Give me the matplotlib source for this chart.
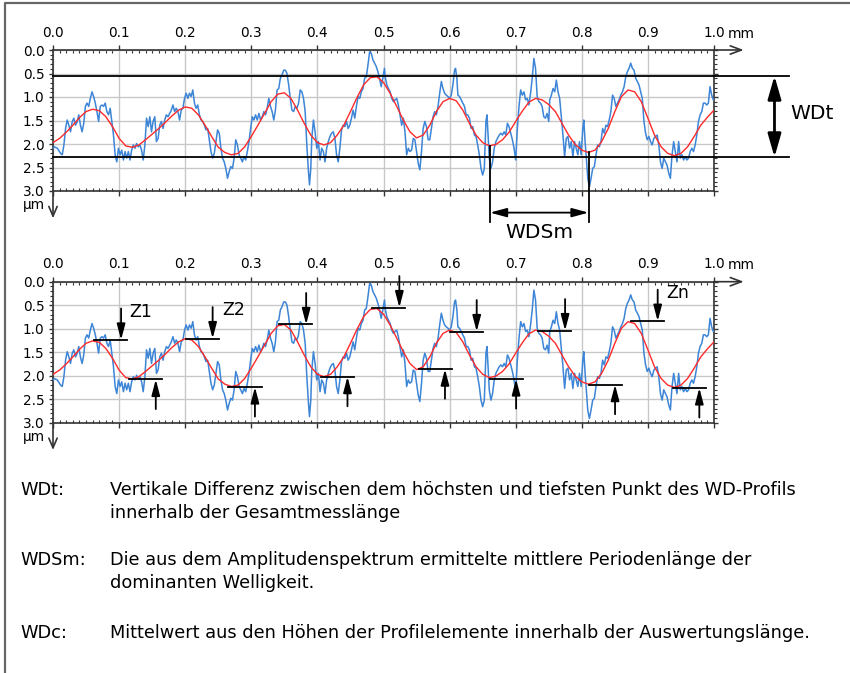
import matplotlib.pyplot as plt
import numpy as np
from matplotlib.lines import Line2D

# WD profile (blue): position in mm, depth in µm
profile_x = [
    0.0, 0.002, 0.0065, 0.0115, 0.014, 0.0165, 0.019, 0.0215, 0.024, 0.0265,
    0.029, 0.0315, 0.034, 0.0365, 0.039, 0.0415, 0.044, 0.0465, 0.049, 0.0515,
    0.054, 0.0565, 0.059, 0.0615, 0.064, 0.0665, 0.069, 0.0715, 0.074, 0.0765,
    0.079, 0.0815, 0.084, 0.0865, 0.089, 0.0915, 0.094, 0.0965, 0.099, 0.1015,
    0.104, 0.1065, 0.109, 0.1115, 0.114, 0.1165, 0.119, 0.1215, 0.124, 0.1265,
    0.129, 0.1315, 0.134, 0.1365, 0.139, 0.1415, 0.144, 0.1465, 0.149, 0.1515,
    0.154, 0.1565, 0.159, 0.1615, 0.164, 0.1665, 0.169, 0.1715, 0.174, 0.1765,
    0.179, 0.1815, 0.184, 0.1865, 0.189, 0.1915, 0.194, 0.1965, 0.199, 0.2015,
    0.204, 0.2065, 0.209, 0.2115, 0.214, 0.2165, 0.219, 0.2215, 0.224, 0.2265,
    0.229, 0.2315, 0.234, 0.2365, 0.239, 0.2415, 0.244, 0.2465,
    0.249, 0.2515, 0.254, 0.2565, 0.259, 0.2615, 0.264, 0.2665, 0.269, 0.2715,
    0.274, 0.2765, 0.279, 0.2815, 0.284, 0.2865, 0.289, 0.2915, 0.294, 0.2965,
    0.299, 0.3015, 0.304, 0.3065, 0.309, 0.3115, 0.314, 0.3165, 0.319, 0.3215,
    0.324, 0.3265, 0.329, 0.3315, 0.334, 0.3365, 0.339, 0.3415, 0.344, 0.3465,
    0.349, 0.3515, 0.354, 0.3565, 0.359, 0.3615, 0.364, 0.3665, 0.369, 0.3715,
    0.374, 0.3765, 0.379, 0.3815, 0.384, 0.3865, 0.388, 0.39, 0.3915, 0.394,
    0.3965, 0.399, 0.4015, 0.404, 0.4065, 0.409, 0.4115, 0.414, 0.4165, 0.419,
    0.4215, 0.424, 0.4265, 0.429, 0.4315, 0.434, 0.4365, 0.439, 0.4415, 0.444,
    0.4465, 0.449, 0.4515, 0.454, 0.4565, 0.459, 0.4615, 0.464, 0.4665, 0.469,
    0.4715, 0.474, 0.4765, 0.479, 0.4815, 0.484, 0.4865, 0.489, 0.4915, 0.494,
    0.4965, 0.499, 0.5015,
    0.5025, 0.505, 0.5075, 0.51, 0.5125, 0.515, 0.5175, 0.52, 0.5225, 0.525,
    0.5275, 0.53, 0.5325, 0.535, 0.5375, 0.54, 0.5425, 0.545, 0.5475, 0.55,
    0.5525, 0.555, 0.5575, 0.56, 0.5625, 0.565, 0.5675, 0.57, 0.5725, 0.575,
    0.5775, 0.58, 0.5825, 0.585, 0.5875, 0.59, 0.5925, 0.595, 0.5975, 0.6,
    0.6025, 0.605, 0.6075, 0.609, 0.611, 0.6125, 0.615, 0.6175, 0.62, 0.6225,
    0.625, 0.6275, 0.63, 0.6325, 0.635, 0.6375, 0.64, 0.6425, 0.645, 0.6475,
    0.65, 0.6525, 0.655, 0.6565, 0.6585, 0.66, 0.6625, 0.665, 0.6675, 0.67,
    0.6725, 0.675, 0.6775, 0.68, 0.6825, 0.685, 0.6875, 0.69, 0.6925, 0.695,
    0.6975, 0.7, 0.7025, 0.705, 0.7075, 0.71, 0.7125, 0.715, 0.7175, 0.72,
    0.7225, 0.725, 0.7275, 0.73, 0.7325, 0.735, 0.7375, 0.74, 0.7425, 0.745,
    0.7475, 0.75,
    0.7515, 0.754, 0.7565, 0.759, 0.7615, 0.764, 0.7665, 0.769, 0.7715, 0.774,
    0.7765, 0.779, 0.7815, 0.784, 0.7865, 0.789, 0.7915, 0.794, 0.7965, 0.799,
    0.8015, 0.803, 0.805, 0.8065, 0.809, 0.8115, 0.814, 0.8165, 0.819, 0.8215,
    0.824, 0.8265, 0.829, 0.8315, 0.834, 0.8365, 0.839, 0.8415, 0.844, 0.8465,
    0.849, 0.8515, 0.854, 0.8565, 0.859, 0.8615, 0.864, 0.8665, 0.869, 0.8715,
    0.874, 0.8765, 0.879, 0.8815, 0.884, 0.8865, 0.889, 0.8915, 0.894, 0.8965,
    0.899, 0.9015, 0.904, 0.9065, 0.909, 0.9115, 0.914, 0.9165, 0.919, 0.9215,
    0.924, 0.9265, 0.929, 0.9315, 0.934, 0.9365, 0.939, 0.9415, 0.944, 0.9465,
    0.949, 0.9515, 0.954, 0.9565, 0.959, 0.9615, 0.964, 0.9665, 0.969, 0.9715,
    0.974, 0.9765, 0.979, 0.9815, 0.984, 0.9865, 0.989, 0.9915, 0.994, 0.9965,
    0.999,
]
profile_y = [
    2.1, 2.06, 2.09, 2.2, 2.23, 2.02, 1.67, 1.49, 1.6, 1.74,
    1.53, 1.45, 1.6, 1.53, 1.38, 1.6, 1.74, 1.56, 1.2, 1.13,
    1.2, 1.03, 0.89, 0.99, 1.13, 1.31, 1.52, 1.2, 1.17, 1.2,
    1.13, 1.31, 1.38, 1.24, 1.52, 1.81, 2.23, 2.38, 2.09, 2.23,
    2.13, 2.34, 2.16, 2.3, 2.16, 2.34, 2.13, 2.02, 2.09, 1.99,
    2.06, 2.02, 2.13, 2.34, 2.02, 1.45, 1.63, 1.42, 1.74, 1.52,
    1.42, 1.95, 1.88, 1.6, 1.52, 1.67, 1.49, 1.38, 1.42, 1.35,
    1.28, 1.17, 1.31, 1.24, 1.31, 1.49, 1.28, 1.24, 1.03, 0.92,
    1.03, 0.92, 0.99, 0.85, 1.13, 1.24, 1.17, 1.38, 1.49, 1.52,
    1.6, 1.7, 1.67, 1.91, 2.16, 2.3, 2.2, 1.95,
    1.7, 1.77, 2.09, 2.3, 2.38, 2.52, 2.73, 2.59, 2.48, 2.52,
    2.3, 1.91, 2.02, 2.23, 2.3, 2.38, 2.27, 2.34, 2.16, 1.95,
    1.67, 1.42, 1.49, 1.38, 1.49, 1.35, 1.49, 1.42, 1.31, 1.38,
    1.24, 1.03, 1.2, 1.31, 1.49, 1.28, 0.85, 0.82, 0.6, 0.53,
    0.43, 0.43, 0.5, 0.74, 1.03, 1.28, 1.31, 1.2, 1.24, 1.13,
    0.85, 0.89, 1.03, 1.31, 2.02, 2.59, 2.87, 2.52, 1.88, 1.49,
    1.74, 2.09, 1.95, 2.34, 2.09, 2.16, 2.38, 2.09, 1.95, 1.84,
    1.77, 1.74, 1.88, 2.23, 2.38, 2.09, 1.7, 1.6, 1.63, 1.52,
    1.67, 1.6, 1.45, 1.28, 1.45, 1.2, 0.99, 1.03, 0.89, 0.82,
    0.6, 0.57, 0.32, 0.04, 0.07, 0.21, 0.28, 0.35, 0.46, 0.6,
    0.78, 0.6, 0.39,
    0.57, 0.74, 0.82, 0.89, 1.03, 1.1, 1.06, 1.03, 1.17, 1.38,
    1.6, 1.45, 1.74, 2.23, 2.09, 2.16, 2.13, 1.88, 1.91, 2.16,
    2.41, 2.55, 2.16, 1.67, 1.52, 1.63, 1.91, 1.91, 1.67, 1.42,
    1.31, 1.38, 1.2, 0.92, 0.67, 0.82, 0.92, 0.96, 0.99, 1.03,
    0.96, 0.74, 0.43, 0.39, 0.6, 0.96, 0.99, 1.06, 1.13, 1.2,
    1.38, 1.38, 1.45, 1.67, 1.63, 1.81, 1.84, 2.02, 2.23, 2.52,
    2.66, 2.52, 1.52, 1.38, 1.88, 2.3, 2.52, 2.38, 2.09, 1.95,
    1.88, 1.81, 1.77, 1.81, 1.74, 1.81, 1.56, 1.63, 1.77, 1.91,
    2.09, 2.34, 1.67, 1.2, 0.85, 0.96, 0.89, 1.06, 1.03, 1.17,
    0.92, 0.6, 0.18, 0.39, 0.99, 1.1, 1.13, 1.2, 1.42, 1.45,
    1.35, 1.52,
    1.06, 0.96, 0.82, 0.89, 0.64, 0.89, 1.03, 1.42, 1.81, 2.27,
    1.88, 1.84, 2.09, 1.95, 2.27, 1.95, 2.09, 2.23, 1.95, 2.23,
    1.67, 1.49, 1.95, 2.23, 2.73, 2.91, 2.73, 2.52, 2.48, 2.23,
    2.02, 2.06, 1.95, 1.67, 1.77, 1.6, 1.63, 1.49, 1.31, 0.96,
    1.03, 1.2, 1.13, 1.06, 0.96, 0.89, 0.78, 0.57, 0.46, 0.39,
    0.28, 0.39, 0.43, 0.6, 0.67, 0.74, 0.89, 1.03, 1.52, 1.77,
    1.91, 1.84, 1.95, 2.02, 1.88, 1.84, 1.81, 2.02, 2.38, 2.52,
    2.3, 2.38, 2.45, 2.62, 2.73, 2.23, 1.95, 2.16, 2.38, 1.95,
    2.3, 2.23, 2.34, 2.27, 2.34, 2.3, 2.16, 2.09, 2.16, 2.02,
    1.81, 1.52, 1.38, 1.31, 1.13, 1.13, 1.17, 1.13, 0.78, 0.96,
    1.06,
]

# filtered waviness curve (red), one reading every 0.01 mm
wave_x = [i / 100 for i in range(101)]
wave_y = [
    1.97, 1.88, 1.75, 1.60, 1.44, 1.31, 1.26, 1.29, 1.42, 1.63,
    1.88, 2.04, 2.07, 2.02, 1.91, 1.79, 1.67, 1.54, 1.40, 1.28,
    1.21, 1.24, 1.38, 1.60, 1.84, 2.07, 2.18, 2.23, 2.20, 2.06,
    1.84, 1.60, 1.35, 1.10, 0.94, 0.91, 1.03, 1.28, 1.56, 1.81,
    1.97, 2.02, 1.97, 1.81, 1.60, 1.31, 1.01, 0.74, 0.59, 0.57,
    0.69, 0.92, 1.20, 1.49, 1.74, 1.87, 1.81, 1.60, 1.31, 1.10,
    1.03, 1.08, 1.28, 1.56, 1.81, 1.97, 2.04, 2.01, 1.91, 1.75,
    1.52, 1.30, 1.11, 1.03, 1.06, 1.16, 1.31, 1.56, 1.81, 2.01,
    2.13, 2.18, 2.13, 1.95, 1.67, 1.31, 0.99, 0.85, 0.89, 1.10,
    1.45, 1.81, 2.06, 2.20, 2.25, 2.20, 2.06, 1.84, 1.60, 1.43,
    1.28,
]

# WDt limits (highest / lowest point of the WD profile)
wdt_top = 0.55
wdt_bottom = 2.28
# WDSm marks: two successive valleys
wdsm_x = [0.661, 0.8103]
wdsm_y = [2.05, 2.18]

# profile element peaks and valleys marked in the lower chart
peak_x = [0.062, 0.2005, 0.342, 0.483, 0.600, 0.7337, 0.8738]
peak_y = [1.24, 1.21, 0.91, 0.55, 1.06, 1.04, 0.84]
valley_x = [0.1155, 0.2655, 0.4055, 0.553, 0.6606, 0.8103, 0.9378]
valley_y = [2.08, 2.24, 2.02, 1.86, 2.07, 2.19, 2.26]
z_labels = ['Z1', 'Z2', 'Zn']
z_label_pos = [(0.1326, 0.64), (0.2736, 0.60), (0.9453, 0.23)]

x_ticks = [round(i * 0.1, 1) for i in range(11)]
y_ticks = [0.0, 0.5, 1.0, 1.5, 2.0, 2.5, 3.0]

legend_rows = [
    ('WDt:', ['Vertikale Differenz zwischen dem höchsten und tiefsten Punkt des WD-Profils',
              'innerhalb der Gesamtmesslänge']),
    ('WDSm:', ['Die aus dem Amplitudenspektrum ermittelte mittlere Periodenlänge der',
               'dominanten Welligkeit.']),
    ('WDc:', ['Mittelwert aus den Höhen der Profilelemente innerhalb der Auswertungslänge.']),
]

BLUE = '#3d85d6'
RED = '#ff2a2a'
GRID = '#c8c8c8'
AXC = '#333333'
W, H = 850, 673


def fig_y(py):
    return 1 - py / H


def profile_axes(fig, top_px):
    ax = fig.add_axes([53 / W, fig_y(top_px + 141), 661 / W, 141 / H])
    ax.set_xlim(0, 1)
    ax.set_ylim(3, 0)
    ax.xaxis.tick_top()
    ax.set_xticks(x_ticks)
    ax.set_xticklabels([f'{t:.1f}' for t in x_ticks])
    ax.set_xticks([i / 100 for i in range(101)], minor=True)
    ax.set_yticks(y_ticks)
    ax.set_yticklabels([f'{t:.1f}' for t in y_ticks])
    ax.set_yticks([i / 10 for i in range(31)], minor=True)
    ax.tick_params(axis='x', which='both', top=True, bottom=True,
                   labeltop=True, labelbottom=False, color=AXC)
    ax.tick_params(axis='x', which='major', direction='out', length=3.5, width=1, pad=4,
                   labelsize=9.8)
    ax.tick_params(axis='x', which='minor', direction='in', length=2.2, width=0.8)
    ax.tick_params(axis='y', which='both', left=True, right=True, direction='out', color=AXC)
    ax.tick_params(axis='y', which='major', length=3, width=1, pad=3, labelsize=9.8)
    ax.tick_params(axis='y', which='minor', length=2, width=0.8)
    ax.grid(True, which='major', color=GRID, lw=1)
    ax.set_axisbelow(True)
    for s in ax.spines.values():
        s.set_color(AXC)
        s.set_linewidth(1.2)
    # axis arrows
    ax.annotate('', xy=(1.045, 0), xytext=(1.0, 0), annotation_clip=False,
                arrowprops=dict(arrowstyle='->,head_length=0.8,head_width=0.3',
                                color=AXC, lw=1.2, shrinkA=0, shrinkB=0))
    ax.annotate('', xy=(0, 3.58), xytext=(0, 3.0), annotation_clip=False,
                arrowprops=dict(arrowstyle='->,head_length=0.7,head_width=0.3',
                                color=AXC, lw=1.2, shrinkA=0, shrinkB=0))
    ax.text(1.021, -0.35, 'mm', fontsize=9.8, ha='left', va='center', clip_on=False)
    ax.text(-0.012, 3.3, 'µm', fontsize=9.8, ha='right', va='center', clip_on=False)
    ax.plot(profile_x, profile_y, color=BLUE, lw=1.1, zorder=3)
    ax.plot(wave_x, wave_y, color=RED, lw=1.0, zorder=4)
    return ax


fig = plt.figure(figsize=(W / 100, H / 100), dpi=100)

# upper chart: WDt and WDSm
ax1 = profile_axes(fig, 50)
for yv in (wdt_top, wdt_bottom):
    ax1.plot([0, 1.114], [yv, yv], color='black', lw=1.3, clip_on=False, zorder=5)
ax1.annotate('', xy=(1.0915, wdt_top), xytext=(1.0915, wdt_bottom), annotation_clip=False,
             arrowprops=dict(arrowstyle='<|-|>,head_length=1.4,head_width=0.4',
                             color='black', lw=2, shrinkA=0, shrinkB=0))
ax1.text(1.149, 1.36, 'WDt', fontsize=14.5, ha='center', va='center', clip_on=False)
for xv, yv in zip(wdsm_x, wdsm_y):
    ax1.plot([xv, xv], [yv, 3.65], color='black', lw=1.3, clip_on=False, zorder=5)
ax1.annotate('', xy=(wdsm_x[0], 3.46), xytext=(wdsm_x[1], 3.46), annotation_clip=False,
             arrowprops=dict(arrowstyle='<|-|>,head_length=1.0,head_width=0.27',
                             color='black', lw=1.3, shrinkA=0, shrinkB=0))
ax1.text(sum(wdsm_x) / 2, 3.88, 'WDSm', fontsize=14.5, ha='center', va='center',
         clip_on=False)

# lower chart: profile element heights Z1 ... Zn
ax2 = profile_axes(fig, 281.7)
small_arrow = dict(arrowstyle='-|>,head_length=0.95,head_width=0.25',
                   color='black', lw=1.3, shrinkA=0, shrinkB=0)
for xv, yv in zip(peak_x, peak_y):
    ax2.plot([xv, xv + 0.05], [yv, yv], color='black', lw=1.3, zorder=5, clip_on=False)
    ax2.annotate('', xy=(xv + 0.041, yv), xytext=(xv + 0.041, yv - 0.67),
                 annotation_clip=False, arrowprops=small_arrow)
for xv, yv in zip(valley_x, valley_y):
    ax2.plot([xv, xv + 0.05], [yv, yv], color='black', lw=1.3, zorder=5, clip_on=False)
    ax2.annotate('', xy=(xv + 0.04, yv), xytext=(xv + 0.04, yv + 0.63),
                 annotation_clip=False, arrowprops=small_arrow)
for lab, (lx, ly) in zip(z_labels, z_label_pos):
    ax2.text(lx, ly, lab, fontsize=12.5, ha='center', va='center')

# explanation text
rows_y = [[490, 513], [560, 583], [633]]
for (key, lines), ys in zip(legend_rows, rows_y):
    fig.text(20 / W, fig_y(ys[0]), key, fontsize=12.8, va='center', ha='left')
    for line, py in zip(lines, ys):
        fig.text(110 / W, fig_y(py), line, fontsize=12.8, va='center', ha='left')

# frame around the figure
fig.add_artist(Line2D([5 / W, 5 / W, 1], [0, fig_y(3), fig_y(3)],
                      transform=fig.transFigure, color='#666666', lw=1.6))

fig.savefig('out.png', dpi=100)
